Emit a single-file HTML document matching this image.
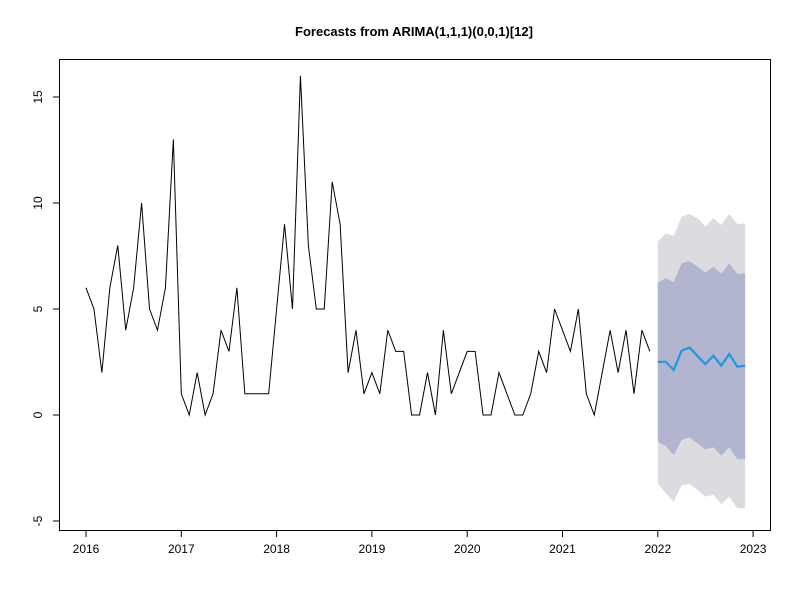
<!DOCTYPE html>
<html><head><meta charset="utf-8"><style>
body{margin:0;background:#fff}
svg{display:block;font-family:"Liberation Sans",Arial,sans-serif}
</style></head><body>
<svg id="c" width="800" height="600" viewBox="0 0 800 600">
<text x="414" y="36" text-anchor="middle" font-size="13" font-weight="bold">Forecasts from ARIMA(1,1,1)(0,0,1)[12]</text>
<g id="bands"></g><g id="lines"></g><g id="axes"></g>
<rect x="59.5" y="59.5" width="711" height="471" fill="none" stroke="#000"/>
</svg>
<script>
const observed=[6,5,2,6,8,4,6,10,5,4,6,13, 1,0,2,0,1,4,3,6,1,1,1,1, 5,9,5,16,8,5,5,11,9,2,4,1, 2,1,4,3,3,0,0,2,0,4,1,2, 3,3,0,0,2,1,0,0,1,3,2,5, 4,3,5,1,0,2,4,2,4,1,4,3];
const fcMean=[2.51,2.51,2.12,3.03,3.18,2.78,2.4,2.8,2.33,2.88,2.28,2.33];
const hi80=[6.24,6.45,6.26,7.16,7.26,7.0,6.71,7.0,6.68,7.16,6.65,6.68];
const lo80=[-1.26,-1.46,-1.89,-1.18,-1.05,-1.34,-1.62,-1.52,-1.92,-1.52,-2.09,-2.09];
const hi95=[8.17,8.57,8.44,9.35,9.48,9.28,8.88,9.28,8.96,9.48,9.0,9.04];
const lo95=[-3.22,-3.69,-4.09,-3.3,-3.25,-3.54,-3.85,-3.77,-4.2,-3.85,-4.4,-4.4];
const xTicks=[2016,2017,2018,2019,2020,2021,2022,2023];
const yTicks=[-5,0,5,10,15];
const startYear=2016;
const X=t=>86+(t-2016)*95.3;
const Y=v=>415-v*21.2;
const NS="http://www.w3.org/2000/svg";
function mk(tag,attrs,parent){const e=document.createElementNS(NS,tag);for(const k in attrs)e.setAttribute(k,attrs[k]);parent.appendChild(e);return e;}
const bands=document.getElementById('bands'),lines=document.getElementById('lines'),axes=document.getElementById('axes');
const fT=i=>startYear+(observed.length+i)/12;
function band(hi,lo,fill,name){
  let p=hi.map((v,i)=>X(fT(i))+','+Y(v));
  for(let i=lo.length-1;i>=0;i--)p.push(X(fT(i))+','+Y(lo[i]));
  const e=mk('polygon',{points:p.join(' '),fill:fill},bands);
  
  
}
band(hi95,lo95,'#dbdbe0','band-95');
band(hi80,lo80,'#b1b5cf','band-80');
const obs=mk('polyline',{points:observed.map((v,i)=>X(startYear+i/12)+','+Y(v)).join(' '),fill:'none',stroke:'#000','stroke-width':1},lines);


const fm=mk('polyline',{points:fcMean.map((v,i)=>X(fT(i))+','+Y(v)).join(' '),fill:'none',stroke:'#2297e6','stroke-width':2.2},lines);


mk('line',{x1:X(xTicks[0]),x2:X(xTicks[xTicks.length-1]),y1:530.5,y2:530.5,stroke:'#000'},axes);
xTicks.forEach(t=>{const x=X(t);mk('line',{x1:x,x2:x,y1:530.5,y2:537,stroke:'#000'},axes);
  const tx=mk('text',{x:x,y:553,'text-anchor':'middle','font-size':12},axes);tx.textContent=t;
  
  });
mk('line',{x1:59.5,x2:59.5,y1:Y(yTicks[0]),y2:Y(yTicks[yTicks.length-1]),stroke:'#000'},axes);
yTicks.forEach(v=>{const y=Y(v);mk('line',{x1:53,x2:59.5,y1:y,y2:y,stroke:'#000'},axes);
  const tx=mk('text',{x:0,y:0,'text-anchor':'middle','font-size':12,transform:`translate(42,${y}) rotate(-90)`},axes);tx.textContent=v;
  
  });
</script>
</body></html>
